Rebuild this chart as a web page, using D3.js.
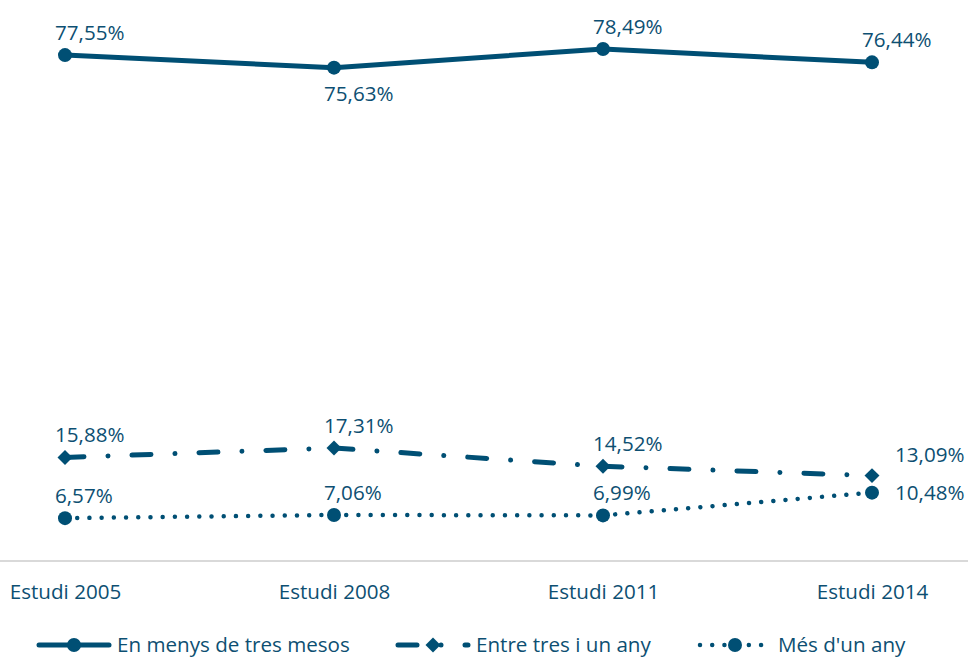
<!DOCTYPE html>
<html>
<head>
<meta charset="utf-8">
<script src="https://cdn.jsdelivr.net/npm/d3@7"></script>
<style>
  body { margin: 0; background: #fff; }
  svg { display: block; font-family: "Open Sans", sans-serif; }
</style>
</head>
<body>
<svg class="mysvg"></svg>
<script>
// data
const studies = ["Estudi 2005", "Estudi 2008", "Estudi 2011", "Estudi 2014"];
const seriesNames = ["En menys de tres mesos", "Entre tres i un any", "Més d'un any"];
const lessThreeMonths = [77.55, 75.63, 78.49, 76.44];
const threeToYear = [15.88, 17.31, 14.52, 13.09];
const moreThanYear = [6.57, 7.06, 6.99, 10.48];

// where each data label sits relative to its point
const labelSides = [
  ["above", "below", "above", "above"],
  ["above", "above", "above", "rightUp"],
  ["above", "above", "above", "right"],
];

const width = 968,
  height = 657,
  color = "#004f74",
  textColor = "#0d4f72",
  fontSize = "20.6px";

const svg = d3.select(".mysvg").attr("width", width).attr("height", height);

const x = d3.scalePoint().domain(studies).range([65, 872]);
const y = d3.scaleLinear().domain([0, 86]).range([561, 0]);

const fmt = (v) => v.toFixed(2).replace(".", ",") + "%";

const styles = [
  { width: 5, dash: null, marker: "circle" },
  { width: 5, dash: "19,24,0.01,24", marker: "diamond" },
  { width: 4.5, dash: "0.01,12.2", marker: "circle" },
];

const allSeries = [lessThreeMonths, threeToYear, moreThanYear].map((vals, i) => ({
  name: seriesNames[i],
  style: styles[i],
  sides: labelSides[i],
  points: vals.map((v, j) => ({ study: studies[j], value: v })),
}));

// x axis line
const xAxis = svg
  .append("g")
  .attr("transform", `translate(0,${y(0)})`)
  .call(d3.axisBottom(x).tickSize(0).tickPadding(23));
xAxis.select(".domain").remove();
xAxis
  .append("line")
  .attr("x1", 0)
  .attr("x2", width)
  .attr("stroke", "#d9d9d9")
  .attr("stroke-width", 2);
xAxis
  .selectAll(".tick text")
  .attr("fill", textColor)
  .style("font-size", fontSize)
  .style("font-family", "Open Sans, sans-serif");

const line = d3
  .line()
  .x((d) => x(d.study))
  .y((d) => y(d.value));

function drawMarker(sel, type, cx, cy) {
  if (type === "circle") {
    sel.append("circle").attr("cx", cx).attr("cy", cy).attr("r", 7).attr("fill", color);
  } else {
    sel
      .append("path")
      .attr("d", d3.symbol(d3.symbolSquare, 112)())
      .attr("transform", `translate(${cx},${cy}) rotate(45)`)
      .attr("fill", color);
  }
}

allSeries.forEach((s) => {
  const g = svg.append("g");
  // each segment restarts the dash pattern, as in the original
  d3.pairs(s.points).forEach((pair) => {
    g.append("path")
      .attr("d", line(pair))
      .attr("fill", "none")
      .attr("stroke", color)
      .attr("stroke-width", s.style.width)
      .attr("stroke-linecap", "round")
      .attr("stroke-dasharray", s.style.dash);
  });
  s.points.forEach((p) => drawMarker(g, s.style.marker, x(p.study), y(p.value)));

  g.selectAll(".lbl")
    .data(s.points)
    .enter()
    .append("text")
    .attr("class", "lbl")
    .attr("x", (d, i) => {
      const side = s.sides[i];
      if (side === "right" || side === "rightUp") return x(d.study) + 23;
      return x(d.study) - 10;
    })
    .attr("y", (d, i) => {
      const side = s.sides[i];
      if (side === "below") return y(d.value) + 33;
      if (side === "right") return y(d.value) + 7;
      if (side === "rightUp") return y(d.value) - 14;
      return y(d.value) - 15;
    })
    .attr("fill", textColor)
    .style("font-size", fontSize)
    .text((d) => fmt(d.value));
});

// legend
const legendX = [39, 398, 700];
const legend = svg.append("g").attr("transform", "translate(0,645)");
allSeries.forEach((s, i) => {
  const lg = legend.append("g").attr("transform", `translate(${legendX[i]},0)`);
  lg.append("line")
    .attr("x1", 0)
    .attr("x2", 70)
    .attr("stroke", color)
    .attr("stroke-width", s.style.width)
    .attr("stroke-linecap", "round")
    .attr("stroke-dasharray", s.style.dash);
  drawMarker(lg, s.style.marker, 35, 0);
  lg.append("text")
    .attr("x", 78)
    .attr("y", 7)
    .attr("fill", textColor)
    .style("font-size", fontSize)
    .text(s.name);
});
</script>
</body>
</html>
